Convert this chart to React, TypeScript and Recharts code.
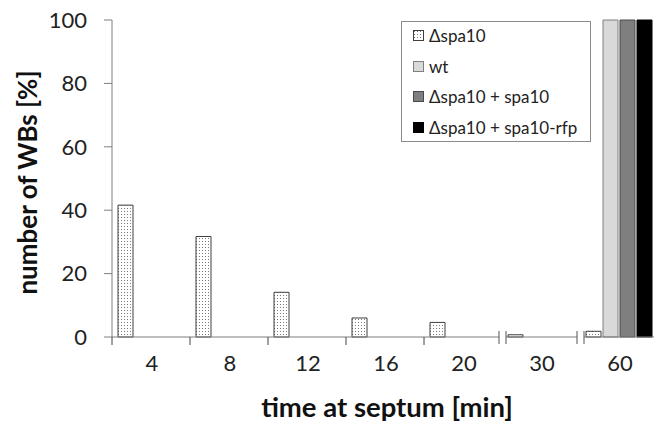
import React from 'react';
import { BarChart, Bar, XAxis, YAxis, Legend } from 'recharts';

const categories = ['4', '8', '12', '16', '20', '30', '60'];
const spa10Deletion = [41.6, 31.7, 14.1, 6.0, 4.6, 0.7, 1.8];
const wildType = [0, 0, 0, 0, 0, 0, 100];
const spa10Complemented = [0, 0, 0, 0, 0, 0, 100];
const spa10Rfp = [0, 0, 0, 0, 0, 0, 100];
const yTicks = [0, 20, 40, 60, 80, 100];
const brokenBefore = ['30', '60'];

const seriesNames = ['Δspa10', 'wt', 'Δspa10 + spa10', 'Δspa10 + spa10-rfp'];
const seriesKeys = ['d', 'wt', 'c', 'r'];
const seriesFill = ['url(#dots)', '#d9d9d9', '#7f7f7f', '#000000'];
const seriesStroke = ['#3f3f3f', '#7f7f7f', '#4a4a4a', '#000000'];

const data = categories.map((cat, i) => ({
  cat,
  d: spa10Deletion[i],
  wt: wildType[i],
  c: spa10Complemented[i],
  r: spa10Rfp[i],
}));

const FONT = 'Lato, "Open Sans", sans-serif';
const AXIS = '#7f7f7f';

function XTick(props: any) {
  const { x, y, payload } = props;
  const off = payload && payload.offset != null ? payload.offset : 39;
  const bx = x - off;
  const axisY = y - 18;
  const isBreak = brokenBefore.includes(String(payload.value));
  return (
    <g>
      {isBreak ? (
        <g>
          <rect x={bx - 3} y={axisY - 1} width={7} height={2} fill="#fff" />
          <line x1={bx - 3} x2={bx - 3} y1={axisY - 6} y2={axisY + 7} stroke="#555" strokeWidth={1} />
          <line x1={bx + 4} x2={bx + 4} y1={axisY - 6} y2={axisY + 7} stroke="#555" strokeWidth={1} />
        </g>
      ) : (
        <line x1={bx} x2={bx} y1={axisY} y2={axisY + 8} stroke="#444" strokeWidth={1} />
      )}
      <text x={x + 1} y={y} dy="0.71em" textAnchor="middle" fill="#222" fontSize={22} fontFamily={FONT}>
        {payload.value}
      </text>
    </g>
  );
}

function YTick(props: any) {
  const { x, y, payload } = props;
  return (
    <text x={x - 15} y={y} dy="0.355em" textAnchor="end" fill="#222" fontSize={22} fontFamily={FONT}>
      {payload.value}
    </text>
  );
}

function Swatch({ i }: { i: number }) {
  return (
    <svg width={11} height={11} style={{ display: 'block' }}>
      <defs>
        <pattern id={'ldots' + i} width={3} height={3} patternUnits="userSpaceOnUse">
          <rect width={3} height={3} fill="#fff" />
          <rect x={1} y={1} width={1} height={1} fill="#7a7a7a" />
        </pattern>
      </defs>
      <rect
        x={0.5}
        y={0.5}
        width={10}
        height={10}
        fill={i === 0 ? 'url(#ldots' + i + ')' : seriesFill[i]}
        stroke={seriesStroke[i]}
      />
    </svg>
  );
}

function LegendBox() {
  return (
    <div
      style={{
        width: 190,
        height: 121,
        boxSizing: 'border-box',
        border: '1px solid #8c8c8c',
        background: '#fff',
        fontFamily: FONT,
        fontSize: 17,
        color: '#222',
        paddingTop: 0,
      }}
    >
      {seriesNames.map((name, i) => (
        <div key={name} style={{ height: 30.5, marginTop: i === 0 ? -1.5 : 0, display: 'flex', alignItems: 'center' }}>
          <div style={{ marginLeft: 11, marginRight: 5 }}>
            <Swatch i={i} />
          </div>
          <span style={{ whiteSpace: 'nowrap' }}>{name}</span>
        </div>
      ))}
    </div>
  );
}

export default function App() {
  return (
    <div style={{ position: 'absolute', left: 0, top: 0, width: 660, height: 426, background: '#fff' }}>
      <BarChart
        width={660}
        height={426}
        data={data}
        margin={{ top: 20, right: 2, left: 0, bottom: 0 }}
        barCategoryGap={6}
        barGap={2}
        barSize={15}
      >
        <defs>
          <pattern id="dots" width={3} height={3} patternUnits="userSpaceOnUse">
            <rect width={3} height={3} fill="#fff" />
            <rect x={1} y={1} width={1} height={1} fill="#7a7a7a" />
          </pattern>
        </defs>
        <XAxis
          dataKey="cat"
          height={89}
          axisLine={{ stroke: AXIS }}
          tickLine={false}
          tickSize={8}
          tickMargin={10}
          interval={0}
          tick={<XTick />}
          label={{
            content: (p: any) => {
              const vb = p.viewBox;
              return (
                <text
                  x={vb.x + vb.width / 2 + 2}
                  y={417}
                  textAnchor="middle"
                  fontWeight="bold"
                  fontSize={27.5}
                  fontFamily={FONT}
                  fill="#111"
                >
                  time at septum [min]
                </text>
              );
            },
          }}
        />
        <YAxis
          width={112}
          domain={[0, 100]}
          ticks={yTicks}
          interval={0}
          axisLine={{ stroke: AXIS }}
          tickLine={{ stroke: AXIS }}
          tickSize={8}
          tickMargin={2}
          tick={<YTick />}
          label={{
            content: (p: any) => {
              const vb = p.viewBox;
              const cx = vb.x + 27;
              const cy = vb.y + vb.height / 2 + 4;
              return (
                <text
                  x={cx}
                  y={cy}
                  transform={`rotate(-90 ${cx} ${cy})`}
                  textAnchor="middle"
                  dominantBaseline="central"
                  fontWeight="bold"
                  fontSize={26}
                  fontFamily={FONT}
                  fill="#111"
                >
                  number of WBs [%]
                </text>
              );
            },
          }}
        />
        <Legend
          layout="horizontal"
          verticalAlign="middle"
          align="center"
          wrapperStyle={{ position: 'absolute', left: 401, top: 21, width: 190, height: 121 }}
          content={() => <LegendBox />}
        />
        {seriesKeys.map((k, i) => (
          <Bar
            key={k}
            dataKey={k}
            name={seriesNames[i]}
            fill={seriesFill[i]}
            stroke={seriesStroke[i]}
            strokeWidth={1}
            isAnimationActive={false}
          />
        ))}
      </BarChart>
    </div>
  );
}
